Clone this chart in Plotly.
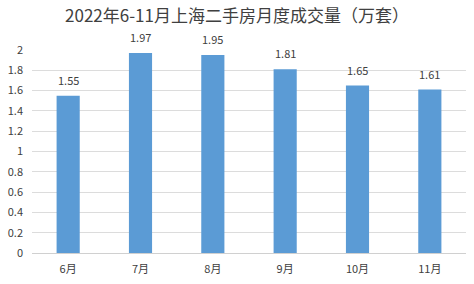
import plotly.graph_objects as go

months = ["6月", "7月", "8月", "9月", "10月", "11月"]
volumes = [1.55, 1.97, 1.95, 1.81, 1.65, 1.61]
y_ticks = [0, 0.2, 0.4, 0.6, 0.8, 1, 1.2, 1.4, 1.6, 1.8, 2]

fig = go.Figure(go.Bar(
    x=months, y=volumes, width=0.32,
    marker=dict(color="#5b9bd5", line=dict(width=0)),
))
for m, v in zip(months, volumes):
    fig.add_annotation(x=m, y=v, text=f"{v:.2f}", showarrow=False,
                       yanchor="bottom", yshift=6,
                       font=dict(size=11, color="#404040"))
fig.update_layout(
    width=474, height=284,
    margin=dict(l=32, r=8, t=50, b=31),
    paper_bgcolor="white", plot_bgcolor="white",
    font=dict(family="Noto Sans CJK SC, Liberation Sans", color="#595959"),
    title=dict(text="2022年6-11月上海二手房月度成交量（万套）", x=0.5, xanchor="center",
               y=0.945, yanchor="middle", font=dict(size=17, color="#404040")),
    showlegend=False,
)
fig.update_xaxes(showgrid=False, showline=True, linecolor="#d0d0d0", linewidth=1,
                 ticks="", tickfont=dict(size=11, color="#404040"), ticklabelstandoff=6)
fig.update_yaxes(range=[0, 2], tickvals=y_ticks, ticktext=[f"{t:g}" for t in y_ticks],
                 showgrid=True, gridcolor="#dcdcdc", gridwidth=1, zeroline=False,
                 ticks="", tickfont=dict(size=11, color="#404040"), ticklabelstandoff=8)
fig.write_html("out.html")
